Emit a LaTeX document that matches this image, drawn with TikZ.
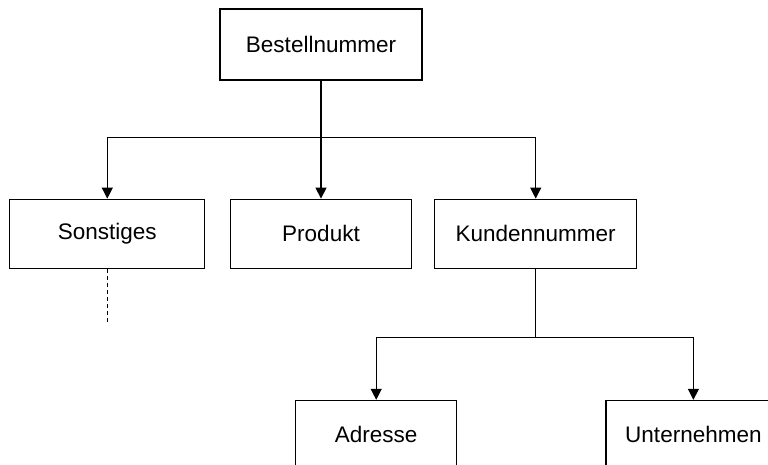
\documentclass[tikz,border=0pt]{standalone}
\usepackage{fontspec}
\setmainfont{Liberation Sans}
\usetikzlibrary{positioning,arrows.meta}
\tikzset{
>={Triangle[width=11pt,length=11pt]},
every node/.style={font=\fontsize{22.5pt}{27pt}\selectfont},
}

\begin{document}
\begin{tikzpicture}
    [line width=1.2pt,
    box/.style={draw, rectangle, inner sep=0pt, minimum height=69pt},
    more/.style={dashed, dash pattern=on 4pt off 3pt}
    ]

    \useasboundingbox (0,0) rectangle (768pt,-464pt);

    \node [box, minimum width=202pt, minimum height=71pt] (best) at (321pt,-44.5pt) {Bestellnummer};

    \node [box, minimum width=181pt] (prod) [below=118pt of best] {Produkt};

    \node [box, minimum width=195pt] (sonst) [left=24.5pt of prod] {Sonstiges};

    \node [box, minimum width=202pt] (kund) [right=22pt of prod] {Kundennummer};

    \node [box, minimum width=161pt] (adr) [below=131pt of kund, xshift=-159.5pt] {Adresse};

    \node [box, minimum width=175pt] (unt) [right=148pt of adr] {Unternehmen};

    \coordinate [below=57pt of best.south] (split);
    \coordinate [below=69pt of kund.south] (split2);
    \coordinate [below=55pt of sonst.south] (cont);

    \draw[->] (best) -- (prod);
    \draw[->] (split) -| (sonst);
    \draw[->] (split) -| (kund);
    \draw (kund) -- (split2);
    \draw[->] (split2) -| (adr);
    \draw[->] (split2) -| (unt);
    \draw[more] (sonst) -- (cont);

\end{tikzpicture}
\end{document}
